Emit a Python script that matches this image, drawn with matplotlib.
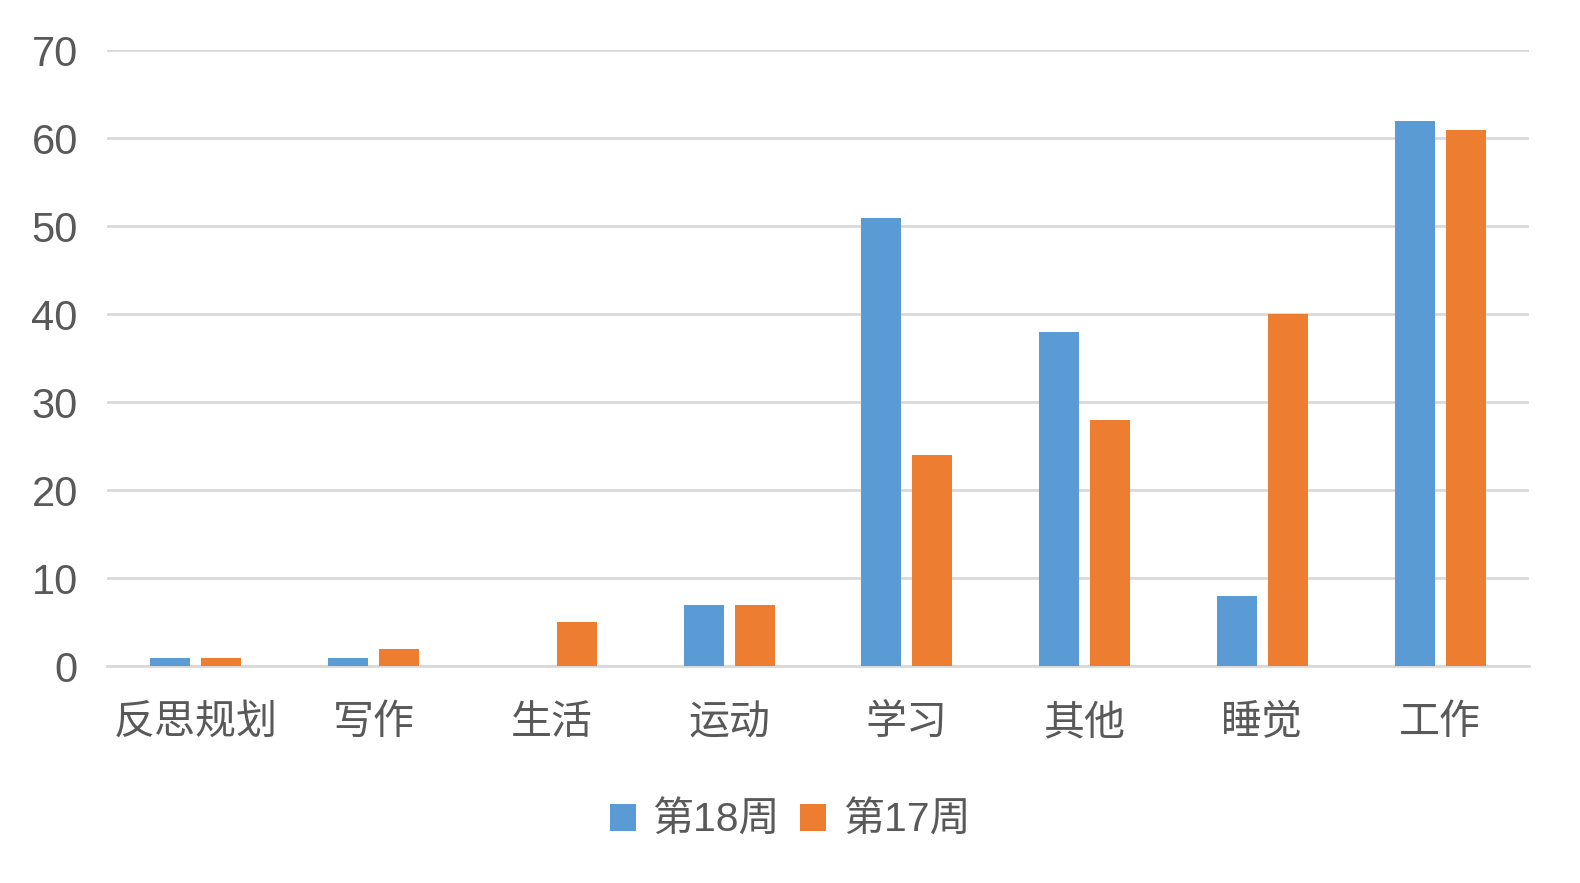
import numpy as np
import matplotlib
matplotlib.use("Agg")
import matplotlib.pyplot as plt

plt.rcParams['font.family'] = ['Liberation Sans', 'Noto Sans CJK SC', 'DejaVu Sans']

categories = ['反思规划', '写作', '生活', '运动', '学习', '其他', '睡觉', '工作']
week18 = [1, 1, 0, 7, 51, 38, 8, 62]
week17 = [1, 2, 5, 7, 24, 28, 40, 61]
series_names = ['第18周', '第17周']
yticks = [0, 10, 20, 30, 40, 50, 60, 70]

blue = '#5B9BD5'
orange = '#ED7D31'
text_color = '#595959'
grid_color = '#D9D9D9'

fig = plt.figure(figsize=(15.8, 8.83), dpi=100)
ax = fig.add_axes([0.0677, 0.2452, 0.9, 0.6978])

x = np.arange(len(categories))
width = 0.225
offset = 0.1435

ax.bar(x - offset, week18, width, color=blue, label=series_names[0], zorder=3)
ax.bar(x + offset, week17, width, color=orange, label=series_names[1], zorder=3)

ax.set_xlim(-0.5, len(categories) - 0.5)
ax.set_ylim(0, 70)
ax.set_yticks(yticks)
ax.yaxis.grid(True, color=grid_color, linewidth=2, zorder=0)
ax.set_axisbelow(True)

for s in ['top', 'right', 'left']:
    ax.spines[s].set_visible(False)
ax.spines['bottom'].set_color(grid_color)
ax.spines['bottom'].set_linewidth(2)

ax.set_xticks(x)
ax.set_xticklabels(categories, family=['Noto Sans CJK SC', 'DejaVu Sans'])
ax.tick_params(axis='y', length=0, pad=21, labelsize=30, labelcolor=text_color)
ax.tick_params(axis='x', length=0, pad=25.5, labelsize=29.5, labelcolor=text_color)

leg = fig.legend(loc='center', bbox_to_anchor=(0.5, 0.07), ncol=2, frameon=False,
                 prop={'family': ['Liberation Sans', 'Noto Sans CJK SC'], 'size': 29.5},
                 handlelength=0.64, handleheight=0.64, handletextpad=0.4,
                 columnspacing=0.5)
for t in leg.get_texts():
    t.set_color(text_color)

fig.savefig('out.png', dpi=100)
